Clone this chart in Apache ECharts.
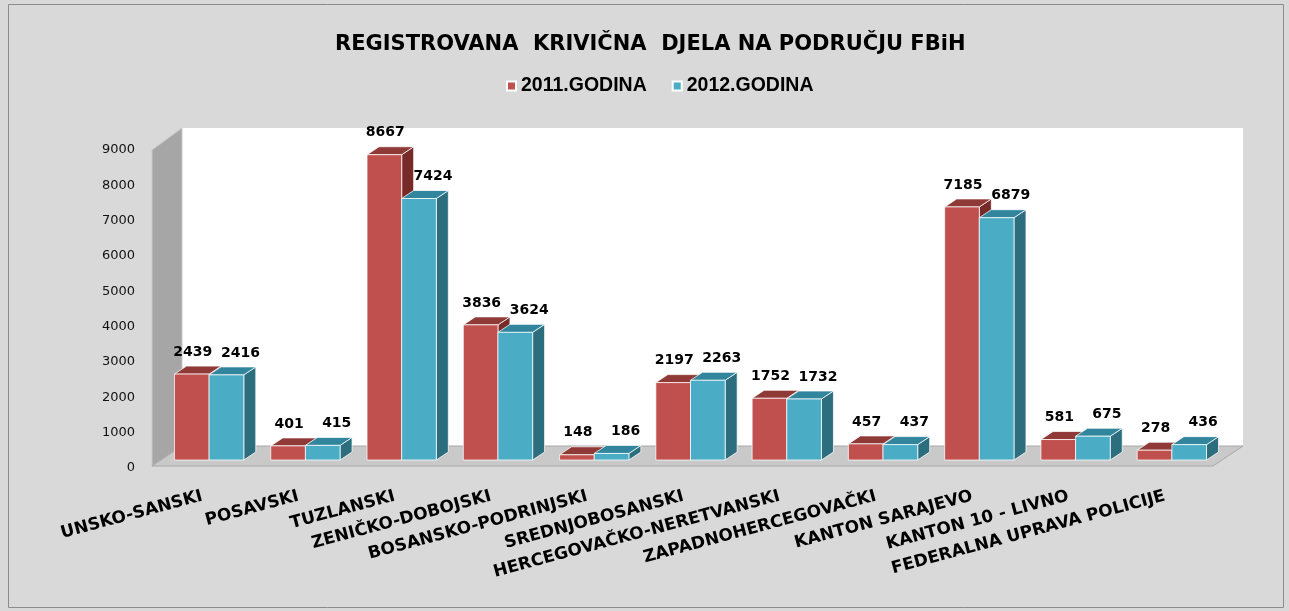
<!DOCTYPE html>
<html>
<head>
<meta charset="utf-8">
<title>Registrovana krivična djela</title>
<script src="https://cdn.jsdelivr.net/npm/echarts@6/dist/echarts.min.js"></script>
<style>
  html, body { margin: 0; padding: 0; background: #d9d9d9; }
  #chart { width: 1289px; height: 611px; }
</style>
</head>
<body>
<div id="chart"></div>
<script>
// podaci
var categories = ['UNSKO-SANSKI', 'POSAVSKI', 'TUZLANSKI', 'ZENIČKO-DOBOJSKI', 'BOSANSKO-PODRINJSKI',
    'SREDNJOBOSANSKI', 'HERCEGOVAČKO-NERETVANSKI', 'ZAPADNOHERCEGOVAČKI', 'KANTON SARAJEVO',
    'KANTON 10 - LIVNO', 'FEDERALNA UPRAVA POLICIJE'];
var values2011 = [2439, 401, 8667, 3836, 148, 2197, 1752, 457, 7185, 581, 278];
var values2012 = [2416, 415, 7424, 3624, 186, 2263, 1732, 437, 6879, 675, 436];
var seriesNames = ['2011.GODINA', '2012.GODINA'];
var yMin = 0, yMax = 9000, yStep = 1000;

// boje: prednja strana, vrh, bok
var palette = [
    { front: '#c0504d', top: '#8f3a37', side: '#772b29' },
    { front: '#4bacc6', top: '#31859c', side: '#2c6d7e' }
];
var depthX = 12, depthY = 8;

var chart = echarts.init(document.getElementById('chart'));

/**
 * zidovi i pod (pozadina 3D grafikona)
 */
function renderBackdrop(params, api) {
    var cs = params.coordSys;
    var x0 = cs.x, x1 = cs.x + cs.width, y0 = cs.y, y1 = cs.y + cs.height;
    return {
        type: 'group',
        children: [
            { type: 'rect', shape: { x: x0 + 21, y: y0 - 15, width: x1 - x0 + 2, height: y1 - y0 + 1 },
              style: { fill: '#ffffff' } },
            { type: 'polygon', shape: { points: [[x0 - 9, y0 + 7], [x0 + 21, y0 - 15], [x0 + 21, y1 - 14], [x0 - 9, y1 + 6]] },
              style: { fill: '#a6a6a6', stroke: '#c8c8c8', lineWidth: 1 } },
            { type: 'polygon', shape: { points: [[x0 + 21, y1 - 14], [x1 + 23, y1 - 14], [x1 - 7, y1 + 6], [x0 - 9, y1 + 6]] },
              style: { fill: '#c9c9c9', stroke: '#a8a8a8', lineWidth: 1 } }
        ]
    };
}

/**
 * stubić sa prednjom stranom, vrhom i bokom
 */
function makeBarRenderer(idx) {
    var col = palette[idx];
    return function (params, api) {
        var cat = api.value(0), val = api.value(1);
        var base = api.coord([cat, 0]);
        var top = api.coord([cat, val]);
        var band = api.size([1, 0])[0];
        var bw = band * 0.36;
        var x = idx === 0 ? base[0] - bw : base[0];
        var ty = top[1], by = base[1];
        var edge = 'rgba(255,255,255,0.75)';
        return {
            type: 'group',
            children: [
                { type: 'polygon', shape: { points: [[x + bw, ty], [x + bw + depthX, ty - depthY], [x + bw + depthX, by - depthY], [x + bw, by]] },
                  style: { fill: col.side, stroke: edge, lineWidth: 1 } },
                { type: 'polygon', shape: { points: [[x, ty], [x + depthX, ty - depthY], [x + bw + depthX, ty - depthY], [x + bw, ty]] },
                  style: { fill: col.top, stroke: edge, lineWidth: 1 } },
                { type: 'rect', shape: { x: x, y: ty, width: bw, height: by - ty },
                  style: { fill: col.front, stroke: edge, lineWidth: 1 } },
                { type: 'text', x: x + bw / 2 + (idx === 0 ? 1 : 14), y: ty - 15,
                  style: { text: String(val), fill: '#000', font: 'bold 14px "DejaVu Sans"',
                           textAlign: 'center', textVerticalAlign: 'bottom' } }
            ]
        };
    };
}

function toPairs(arr) {
    return arr.map(function (v, i) { return [i, v]; });
}

var option = {
    backgroundColor: '#d9d9d9',
    animation: false,
    title: {
        text: 'REGISTROVANA  KRIVIČNA  DJELA NA PODRUČJU FBiH',
        left: 330,
        top: 29,
        textStyle: { fontFamily: 'DejaVu Sans', fontWeight: 'bold', fontSize: 21, color: '#000' }
    },
    legend: {
        top: 71,
        left: 501,
        itemWidth: 9,
        itemHeight: 9,
        itemGap: 25,
        icon: 'rect',
        data: seriesNames,
        textStyle: { fontFamily: 'Liberation Sans', fontWeight: 'bold', fontSize: 19.5, color: '#000' }
    },
    graphic: [{
        type: 'rect', shape: { x: 8.5, y: 4.5, width: 1275, height: 603 },
        style: { fill: null, stroke: '#8c8c8c', lineWidth: 1 }, silent: true
    }],
    grid: [
        { left: 161, top: 143, width: 1059, height: 317 },
        { left: 154, top: 150, width: 1059, height: 318 }
    ],
    xAxis: [
        { type: 'category', gridIndex: 0, data: categories, show: false },
        { type: 'category', gridIndex: 1, data: categories,
          axisLine: { show: false }, axisTick: { show: false },
          axisLabel: { interval: 0, rotate: 15, margin: 28, color: '#000',
                       fontFamily: 'DejaVu Sans', fontWeight: 'bold', fontSize: 17 } }
    ],
    yAxis: [
        { type: 'value', gridIndex: 0, min: yMin, max: yMax, interval: yStep, show: false },
        { type: 'value', gridIndex: 1, min: yMin, max: yMax, interval: yStep,
          axisLine: { show: false }, axisTick: { show: false }, splitLine: { show: false },
          axisLabel: { margin: 19, color: '#111', fontFamily: 'DejaVu Sans', fontSize: 13,
                       formatter: function (v) { return String(v); } } }
    ],
    series: [
        { type: 'custom', name: 'pozadina', xAxisIndex: 0, yAxisIndex: 0, silent: true,
          renderItem: renderBackdrop, data: [[0, 0]], z: 1 },
        { type: 'custom', name: seriesNames[0], xAxisIndex: 0, yAxisIndex: 0,
          itemStyle: { color: palette[0].front, borderColor: '#fff', borderWidth: 1 },
          renderItem: makeBarRenderer(0), data: toPairs(values2011), z: 2 },
        { type: 'custom', name: seriesNames[1], xAxisIndex: 0, yAxisIndex: 0,
          itemStyle: { color: palette[1].front, borderColor: '#fff', borderWidth: 1 },
          renderItem: makeBarRenderer(1), data: toPairs(values2012), z: 3 }
    ]
};

chart.setOption(option);
</script>
</body>
</html>
